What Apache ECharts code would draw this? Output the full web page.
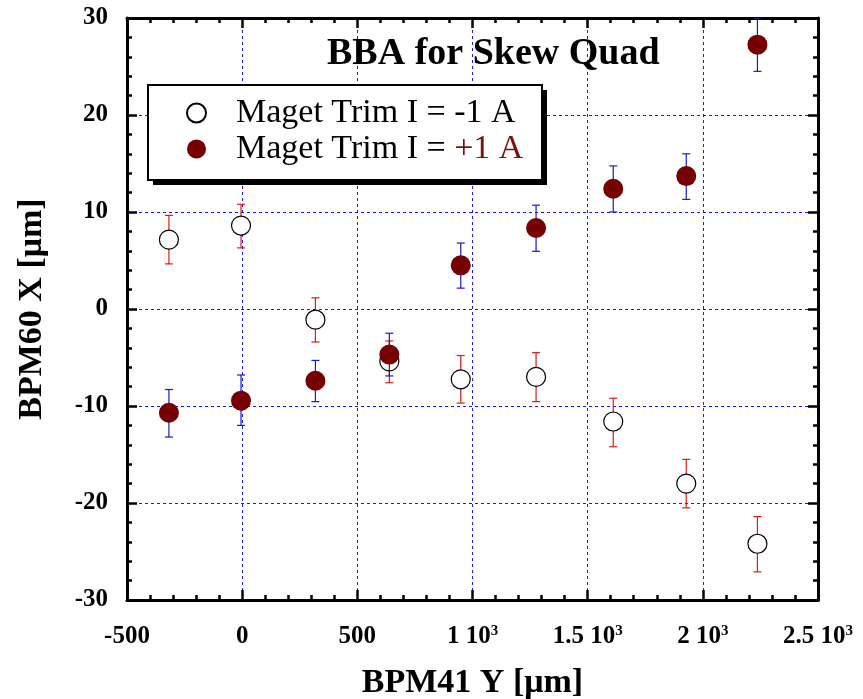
<!DOCTYPE html>
<html>
<head>
<meta charset="utf-8">
<title>BBA for Skew Quad</title>
<script src="https://cdn.jsdelivr.net/npm/echarts@6/dist/echarts.min.js"></script>
<style>
  html, body { margin: 0; padding: 0; background: #fff; }
  #chartBox { width: 863px; height: 699px; }
</style>
</head>
<body>
<div id="chartBox"></div>
<script>
// BPM41 Y positions (um)
var xPos = [-318, -5, 318, 639, 949, 1276, 1611, 1928, 2237];

// Trim I = -1 A (open circles, red error bars)
var yMinus   = [7.15, 8.6, -1.1, -5.4, -7.25, -7.0, -11.6, -18.0, -24.2];
var hiMinus  = [9.65, 10.8, 1.15, -3.3, -4.8, -4.5, -9.2, -15.5, -21.4];
var loMinus  = [4.65, 6.3, -3.4, -7.6, -9.7, -9.55, -14.2, -20.5, -27.1];

// Trim I = +1 A (filled circles, blue error bars)
var yPlus    = [-10.7, -9.45, -7.4, -4.7, 4.5, 8.35, 12.4, 13.7, 27.25];
var hiPlus   = [-8.3, -6.8, -5.3, -2.5, 6.8, 10.7, 14.75, 16.0, 30.0];
var loPlus   = [-13.2, -12.0, -9.55, -6.9, 2.15, 5.95, 10.0, 11.3, 24.5];

var nameMinus = 'Maget Trim I = -1 A';
var namePlus = 'Maget Trim I = +1 A';

var serif = "'Liberation Serif', 'Times New Roman', serif";

function pts(ys) {
  return xPos.map(function (x, i) { return [x, ys[i]]; });
}
function bars(lo, hi) {
  return xPos.map(function (x, i) { return [x, lo[i], hi[i]]; });
}

// error bar with caps
function errorBar(color) {
  return function (params, api) {
    var top = api.coord([api.value(0), api.value(2)]);
    var bot = api.coord([api.value(0), api.value(1)]);
    var w = 4;
    var st = { stroke: color, lineWidth: 1.2 };
    return {
      type: 'group',
      children: [
        { type: 'line', shape: { x1: top[0], y1: top[1], x2: bot[0], y2: bot[1] }, style: st },
        { type: 'line', shape: { x1: top[0] - w, y1: top[1], x2: top[0] + w, y2: top[1] }, style: st },
        { type: 'line', shape: { x1: bot[0] - w, y1: bot[1], x2: bot[0] + w, y2: bot[1] }, style: st }
      ]
    };
  };
}

function xLabel(v) {
  if (v < 1000) return '{n|' + v + '}';
  return '{n|' + (v / 1000) + ' 10}{s|3}';
}

var chart = echarts.init(document.getElementById('chartBox'));

var baseAxis = {
  axisLine: { onZero: false, lineStyle: { color: '#000', width: 3 } },
  axisTick: { inside: true, length: 10, lineStyle: { color: '#000', width: 2.5 } },
  minorTick: { show: true, splitNumber: 5, length: 5, lineStyle: { color: '#000', width: 2.5 } },
  splitLine: { show: false }
};

var gridLine = { show: true, lineStyle: { color: '#0000ff', width: 1, type: [3, 3], opacity: 0.9 } };

var option = {
  animation: false,
  backgroundColor: '#fff',
  title: {
    text: 'BBA for Skew Quad',
    left: 327,
    top: 35,
    padding: 0,
    textStyle: { fontFamily: serif, fontSize: 38, fontWeight: 'bold', color: '#000' }
  },
  // legend frame with its hard drop shadow
  graphic: [
    { type: 'rect', z: 10, silent: true, shape: { x: 153, y: 90, width: 394, height: 95 }, style: { fill: '#000' } },
    { type: 'rect', z: 11, silent: true, shape: { x: 148, y: 85, width: 394, height: 95 }, style: { fill: '#fff', stroke: '#000', lineWidth: 2 } }
  ],
  legend: {
    data: [nameMinus, namePlus],
    z: 20,
    orient: 'vertical',
    left: 148,
    top: 85,
    padding: [11, 17, 14, 38],
    itemGap: 2,
    itemWidth: 19,
    itemHeight: 19,
    icon: 'circle',
    selectedMode: false,
    formatter: function (name) {
      if (name === namePlus) return '{a|Maget Trim I = }{b|+1 A}';
      return '{a|' + name + '}';
    },
    textStyle: {
      fontFamily: serif,
      fontSize: 34,
      lineHeight: 33,
      padding: [0, 0, 0, 25],
      rich: {
        a: { fontFamily: serif, fontSize: 34, color: '#000', lineHeight: 33 },
        b: { fontFamily: serif, fontSize: 34, color: '#7a1010', lineHeight: 33 }
      }
    }
  },
  grid: { left: 127, right: 45, top: 18, bottom: 99, containLabel: false, outerBoundsMode: 'none' },
  xAxis: [
    Object.assign({}, baseAxis, {
      type: 'value', min: -500, max: 2500, interval: 500, position: 'bottom',
      name: 'BPM41 Y [\u03bcm]', nameLocation: 'middle', nameGap: 66,
      nameTextStyle: { fontFamily: serif, fontSize: 34, fontWeight: 'bold', color: '#000' },
      splitLine: gridLine,
      axisLabel: {
        margin: 24, formatter: xLabel,
        rich: {
          n: { fontFamily: serif, fontSize: 25, fontWeight: 'bold', color: '#000' },
          s: { fontFamily: serif, fontSize: 15, fontWeight: 'bold', color: '#000', verticalAlign: 'top' }
        }
      }
    }),
    Object.assign({}, baseAxis, {
      type: 'value', min: -500, max: 2500, interval: 500, position: 'top',
      axisLabel: { show: false }
    })
  ],
  yAxis: [
    Object.assign({}, baseAxis, {
      type: 'value', min: -30, max: 30, interval: 10, position: 'left',
      name: 'BPM60 X [\u03bcm]', nameLocation: 'middle', nameGap: 78, nameRotate: 90,
      nameTextStyle: { fontFamily: serif, fontSize: 34, fontWeight: 'bold', color: '#000' },
      splitLine: gridLine,
      axisLabel: { margin: 19, fontFamily: serif, fontSize: 25, fontWeight: 'bold', color: '#000' }
    }),
    Object.assign({}, baseAxis, {
      type: 'value', min: -30, max: 30, interval: 10, position: 'right',
      axisLabel: { show: false }
    })
  ],
  series: [
    {
      name: 'errMinus', type: 'custom', silent: true, clip: true,
      renderItem: errorBar('#e01818'), data: bars(loMinus, hiMinus), z: 2
    },
    {
      name: nameMinus, type: 'scatter', symbol: 'circle', symbolSize: 19, silent: true,
      itemStyle: { color: '#fff', borderColor: '#000', borderWidth: 1.2, opacity: 1 },
      data: pts(yMinus), z: 3
    },
    {
      name: 'errPlus', type: 'custom', silent: true, clip: true,
      renderItem: errorBar('#1818d8'), data: bars(loPlus, hiPlus), z: 4
    },
    {
      name: namePlus, type: 'scatter', symbol: 'circle', symbolSize: 20, silent: true,
      itemStyle: { color: '#760000', opacity: 1 },
      data: pts(yPlus), z: 5
    }
  ]
};

chart.setOption(option);
</script>
</body>
</html>
